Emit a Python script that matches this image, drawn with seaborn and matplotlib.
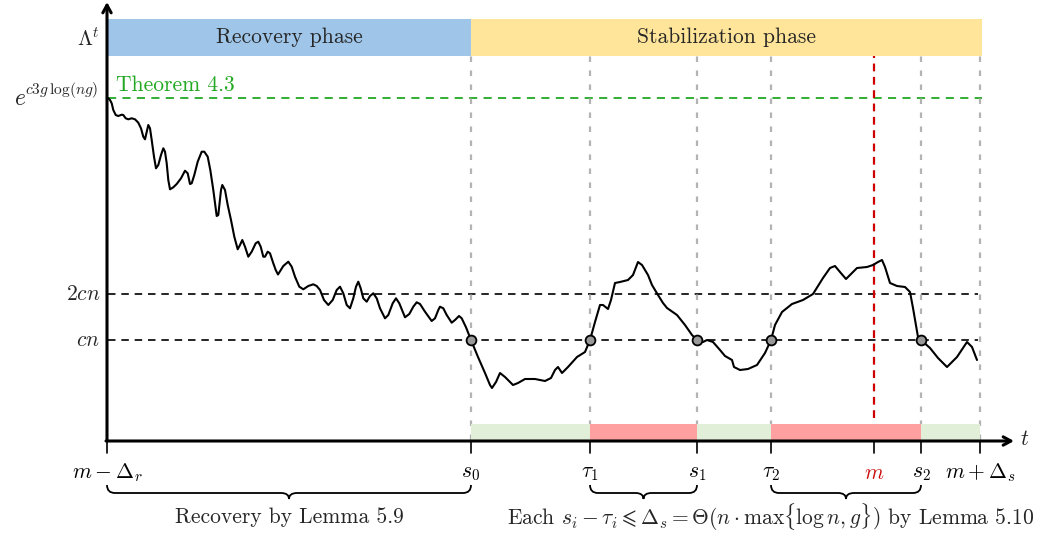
import numpy as np
import pandas as pd
import matplotlib
matplotlib.use("Agg")
import matplotlib.pyplot as plt
import seaborn as sns
from matplotlib.path import Path
from matplotlib.patches import PathPatch, Rectangle

# ---------------- data (schematic units) ----------------
rec_t = [1, 3, 4.7, 6.3, 8.7, 11.3, 14.7, 16.3, 18.7, 21.3, 24.7, 28, 31.3, 34, 36.3, 38,
         39.7, 41.3, 43, 44.7, 47, 49, 51.3, 54, 56.3, 58, 59.7, 61.3, 63, 66.3, 69.7, 74,
         78, 80.7, 83, 84.7, 87.3, 90.7, 94.7, 97.3, 100.7, 103.3, 106.3, 109.7, 111.3, 114,
         115.3, 118, 120.7, 124, 127.3, 130.7, 133, 135.3, 138, 141.3, 144.7, 148.7, 151.3,
         153.7, 156.3, 158, 160.7, 163, 166.3, 168.7, 171, 176.3, 181.3, 184.7, 188, 192.3,
         196.3, 201.3, 206.3, 209.7, 213, 217, 221.3, 225.7, 229.7, 233, 236.3, 239.7, 243,
         246.3, 249, 251.3, 253.7, 256.3, 259.7, 263, 266.3, 269.7, 273, 278, 281.3, 285.7,
         289, 292.3, 295.7, 298, 302.3, 306.3, 309.7, 313, 318, 324.7, 328, 331.3, 333,
         336.3, 339.7, 344.7, 348, 352, 354.7, 359, 364]
rec_lam = [343, 341, 337.7, 331, 326, 325, 326.3, 326, 322.7, 321.7, 322.7, 321.7, 318.3,
           312.7, 304.3, 301.7, 309.3, 316, 312.7, 301, 284.3, 272.7, 276, 286, 292.7, 289.3,
           277.7, 261, 251.7, 253.7, 257, 262.7, 270.3, 267.7, 257, 257.7, 266, 279.3, 289.3,
           289.3, 284.3, 271, 251, 225, 226, 251, 256, 251, 236, 221, 204.3, 191.7, 196, 201,
           194.3, 184.3, 189.3, 197.7, 199.3, 194.3, 184.3, 184.3, 189.3, 187.7, 177.7, 171,
           166.5, 175, 179.3, 174.3, 164.3, 154.3, 151.7, 155, 156.7, 155, 151, 141, 136, 141,
           151, 154.3, 147.7, 136, 132.7, 142.7, 154.3, 159.3, 152.7, 142.7, 139.3, 145,
           147.7, 142.7, 132.7, 122.7, 126, 137.7, 142.7, 137.7, 129.3, 123.7, 127, 134.3,
           138.7, 137, 129.3, 120, 122.7, 131, 134.3, 132.7, 126, 118.3, 121, 125, 122.7,
           113.7, 101]
stab_t = [371, 378, 383, 385, 389, 393, 398, 406, 411, 418, 428, 438, 444, 448, 451, 455,
          461, 470, 478, 483, 488, 493, 496, 501, 504, 508, 513, 521, 526, 531, 535, 541,
          545, 551, 556, 560, 570, 578, 585, 590, 596, 600, 606, 613, 618, 625, 627, 633,
          641, 650, 658, 664, 668, 675, 685, 696, 706, 716, 723, 728, 733, 739, 745, 750,
          760, 766, 771, 775, 778, 783, 790, 798, 803, 806, 811, 814, 823, 831, 840, 850,
          860, 865, 870]
stab_lam = [84, 68, 56, 53, 59, 68, 64, 56, 58, 62, 62, 60, 63, 71, 74, 68, 74, 84, 89,
            101, 119, 136, 136, 132, 141, 158, 159, 161, 166, 179, 176, 166, 156, 146, 138,
            133, 126, 116, 106, 101, 99, 101, 99, 91, 85, 81, 74, 71, 72, 76, 88, 101, 116,
            129, 137, 141, 147, 163, 173, 175, 169, 162, 168, 173, 174, 176, 179, 181, 174,
            158, 155, 154, 149, 133, 104, 101, 93, 83, 74, 84, 99, 94, 81]

level_labels = ["$2cn$", "$cn$"]
level_values = [147, 101]
thm_level = 343
thm_label = "Theorem 4.3"
top_base = r"$e$"
top_exponent = r"$c3g\,\log(ng)$"
axis_label = r"$\Lambda^t$"

mark_labels = [r"$m-\Delta_r$", "$s_0$", r"$\tau_1$", "$s_1$", r"$\tau_2$", "$m$", "$s_2$",
               r"$m+\Delta_s$"]
mark_t = [0, 364, 483, 590, 664, 767, 814, 873]
crossing_t = [364, 483, 590, 664, 814]
gray_t = [364, 483, 590, 664, 814, 873]
m_t = 767

bar_start = [364, 483, 590, 664, 814]
bar_end = [483, 590, 664, 814, 873]
bar_kind = ["ok", "bad", "ok", "bad", "ok"]

phase_names = ["Recovery phase", "Stabilization phase"]
phase_start = [1, 364]
phase_end = [364, 875]

brace_start = [0, 483, 664]
brace_end = [364, 590, 814]
brace_texts = ["Recovery by Lemma 5.9",
               r"Each $s_i-\tau_i\leqslant\Delta_s=\Theta(n\cdot\max\{\log n,g\})$ by Lemma 5.10"]

# ---------------- style ----------------
sns.set_style("white")
plt.rcParams["font.family"] = ["cmr10", "DejaVu Serif"]
plt.rcParams["mathtext.fontset"] = "cm"
plt.rcParams["axes.unicode_minus"] = False
FS = 15.5

fig = plt.figure(figsize=(10.49, 5.36), dpi=100)
ax = fig.add_axes([0, 0, 1, 1])
ax.set_xlim(-107, 942)
ax.set_ylim(-95, 441)
ax.axis("off")

# phase bands
phase_colors = ["#9fc5e8", "#ffe599"]
for name, s, e, c in zip(phase_names, phase_start, phase_end, phase_colors):
    ax.add_patch(Rectangle((s, 385), e - s, 37, facecolor=c, edgecolor="none", zorder=1))
    ax.text((s + e) / 2, 403.5, name, ha="center", va="center", fontsize=FS, zorder=2)

# threshold lines
ax.plot([1, 875], [thm_level, thm_level], color="#22a822", lw=1.3,
        linestyle=(0, (4.5, 3.5)), zorder=2)
ax.text(9, 356, thm_label, color="#22a822", fontsize=FS, ha="left", va="center")
for lab, v in zip(level_labels, level_values):
    ax.plot([1, 871], [v, v], color="black", lw=1.2, linestyle=(0, (4.5, 3.5)), zorder=2)
    ax.text(-7, v, lab, ha="right", va="center", fontsize=FS)
ax.text(-9, 351, top_exponent, ha="right", va="center", fontsize=11.2)
ax.text(-81, 342, top_base, ha="right", va="center", fontsize=17)
ax.text(-7, 402, axis_label, ha="right", va="center", fontsize=FS)

# vertical markers
for x in gray_t:
    ax.plot([x, x], [1, 385], color="#b3b3b3", lw=1.6, linestyle=(0, (2.5, 3.8)), zorder=2)
ax.plot([m_t, m_t], [23, 385], color="#cc0000", lw=1.6, linestyle=(0, (3.5, 2.5)), zorder=2)

# bottom interval bars
bar_colors = {"ok": "#e1efd9", "bad": "#ffa0a0"}
for s, e, k in zip(bar_start, bar_end, bar_kind):
    ax.add_patch(Rectangle((s, 1), e - s, 16, facecolor=bar_colors[k], edgecolor="none", zorder=3))

# curve
df = pd.DataFrame({"t": rec_t + stab_t, "lam": rec_lam + stab_lam})
sns.lineplot(data=df, x="t", y="lam", ax=ax, color="black", lw=1.5, estimator=None,
             sort=False, solid_joinstyle="round", solid_capstyle="round", zorder=4)
cross = pd.DataFrame({"t": crossing_t, "lam": [level_values[1]] * len(crossing_t)})
sns.scatterplot(data=cross, x="t", y="lam", ax=ax, s=50, color="#999999",
                edgecolor="black", linewidth=1.3, zorder=5)

# axes with arrows
ax.annotate("", xy=(0, 439), xytext=(0, 0),
            arrowprops=dict(arrowstyle="->,head_length=0.55,head_width=0.3", lw=2.2,
                            color="black", shrinkA=0, shrinkB=0), zorder=6)
ax.annotate("", xy=(907, 0), xytext=(-1, 0),
            arrowprops=dict(arrowstyle="->,head_length=0.55,head_width=0.3", lw=2.2,
                            color="black", shrinkA=0, shrinkB=0), zorder=6)
ax.text(918, 2, "$t$", fontsize=FS, ha="center", va="center")

# ticks and labels
for x, lab in zip(mark_t, mark_labels):
    ax.plot([x, x], [0, -12], color="black", lw=1.2, zorder=6)
    ax.text(x, -32, lab, ha="center", va="center", fontsize=FS,
            color="#cc1111" if lab == "$m$" else "black")


# braces
def brace(x0, x1, yt=-44, ym=-52, yb=-58):
    r = 8
    xm = (x0 + x1) / 2
    verts = [(x0, yt), (x0, ym), (x0 + r, ym),
             (xm - r, ym), (xm, ym), (xm, yb),
             (xm, ym), (xm + r, ym),
             (x1 - r, ym), (x1, ym), (x1, yt)]
    codes = [Path.MOVETO, Path.CURVE3, Path.CURVE3,
             Path.LINETO, Path.CURVE3, Path.CURVE3,
             Path.CURVE3, Path.CURVE3,
             Path.LINETO, Path.CURVE3, Path.CURVE3]
    ax.add_patch(PathPatch(Path(verts, codes), facecolor="none", edgecolor="black", lw=1.3))


for s, e in zip(brace_start, brace_end):
    brace(s, e)
ax.text(182, -76, brace_texts[0], ha="center", va="center", fontsize=FS)
ax.text(664, -76, brace_texts[1], ha="center", va="center", fontsize=FS)

fig.savefig("out.png", dpi=100)
